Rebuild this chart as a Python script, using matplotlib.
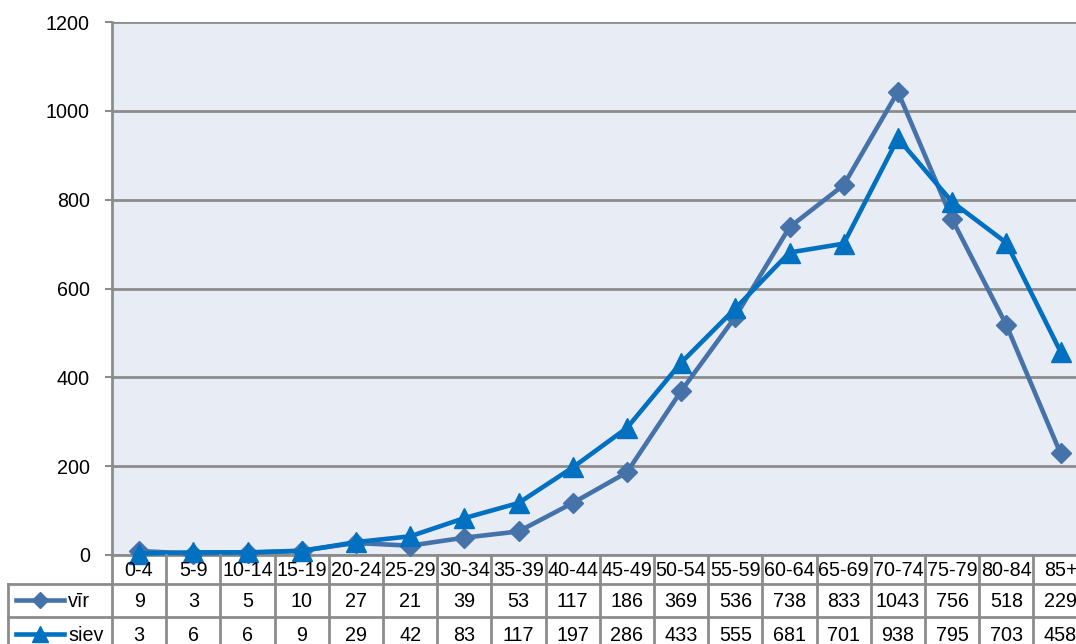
"""Age group chart with data table below (Excel style)."""

import matplotlib.pyplot as plt
import matplotlib.transforms as mtransforms
from matplotlib.lines import Line2D

age_groups = ["0-4", "5-9", "10-14", "15-19", "20-24", "25-29", "30-34", "35-39",
              "40-44", "45-49", "50-54", "55-59", "60-64", "65-69", "70-74", "75-79",
              "80-84", "85+"]
vir = [9, 3, 5, 10, 27, 21, 39, 53, 117, 186, 369, 536, 738, 833, 1043, 756, 518, 229]
siev = [3, 6, 6, 9, 29, 42, 83, 117, 197, 286, 433, 555, 681, 701, 938, 795, 703, 458]
series_names = ["vīr", "siev"]
y_ticks = [0, 200, 400, 600, 800, 1000, 1200]

W, H = 1076, 644
VIR_COLOR = "#4672AA"
SIEV_COLOR = "#0070C0"
GRID = "#8C8C8C"
FONT = "Liberation Sans"
FS = 14.2

fig = plt.figure(figsize=(W / 100, H / 100), dpi=100)
fig.patch.set_facecolor("white")

# plot area in pixels: left 112, top 22, bottom 555, 18 columns of ~54.2 px
left, top, bottom = 112, 22, 555
col_w = 54.2
n = len(age_groups)
ax = fig.add_axes([left / W, 1 - bottom / H, n * col_w / W, (bottom - top) / H])
ax.set_facecolor("#E8ECF5")

x = list(range(n))
ax.plot(x, vir, color=VIR_COLOR, lw=3.3, marker="D", ms=10, clip_on=False, zorder=3)
ax.plot(x, siev, color=SIEV_COLOR, lw=3.3, marker="^", ms=14, clip_on=False, zorder=4)

ax.set_xlim(-0.5, n - 0.5)
ax.set_ylim(0, 1200)
ax.set_yticks(y_ticks)
ax.set_yticklabels([str(v) for v in y_ticks], fontsize=FS, family=FONT)
ax.set_xticks([])
ax.yaxis.grid(True, color=GRID, lw=2)
ax.set_axisbelow(True)
ax.tick_params(axis="y", length=5, width=1.5, color=GRID, pad=11)
for side in ["top", "right"]:
    ax.spines[side].set_visible(False)
ax.spines["left"].set_color(GRID)
ax.spines["left"].set_linewidth(2)
ax.spines["bottom"].set_color(GRID)
ax.spines["bottom"].set_linewidth(2)

# pixel transform (x right, y down from top)
pix = mtransforms.Affine2D().scale(1 / W, -1 / H).translate(0, 1) + fig.transFigure
col_tr = mtransforms.blended_transform_factory(ax.transData, pix)

row_lines = [bottom, 584, 617, 652]
line_kw = dict(color=GRID, lw=2, clip_on=False, zorder=5)

# vertical column separators
for i in range(n + 1):
    fig.add_artist(Line2D([i - 0.5, i - 0.5], [bottom, row_lines[-1]], transform=col_tr, **line_kw))
# horizontal row lines
right_px = left + n * col_w
for y in row_lines[1:]:
    fig.add_artist(Line2D([8, right_px], [y, y], transform=pix, **line_kw))
fig.add_artist(Line2D([8, 8], [row_lines[1], row_lines[-1]], transform=pix, **line_kw))

# header and values
txt_kw = dict(ha="center", va="center", fontsize=FS, family=FONT, color="black")
for i, label in enumerate(age_groups):
    fig.text(i, (row_lines[0] + row_lines[1]) / 2 + 1, label, transform=col_tr, **txt_kw)
    fig.text(i, (row_lines[1] + row_lines[2]) / 2 + 1, str(vir[i]), transform=col_tr, **txt_kw)
    fig.text(i, (row_lines[2] + row_lines[3]) / 2 + 1, str(siev[i]), transform=col_tr, **txt_kw)

# legend keys inside the table
legend_rows = [(series_names[0], VIR_COLOR, "D", 8), (series_names[1], SIEV_COLOR, "^", 12)]
for k, (name, color, marker, ms) in enumerate(legend_rows):
    yc = (row_lines[k + 1] + row_lines[k + 2]) / 2
    fig.add_artist(Line2D([16, 64], [yc, yc], transform=pix, color=color, lw=3.3, zorder=6))
    fig.add_artist(Line2D([40], [yc], transform=pix, color=color, marker=marker, ms=ms, zorder=6))
    fig.text(68, yc + 1, name, transform=pix, ha="left", va="center", fontsize=FS, family=FONT)

fig.savefig("out.png", dpi=100)
